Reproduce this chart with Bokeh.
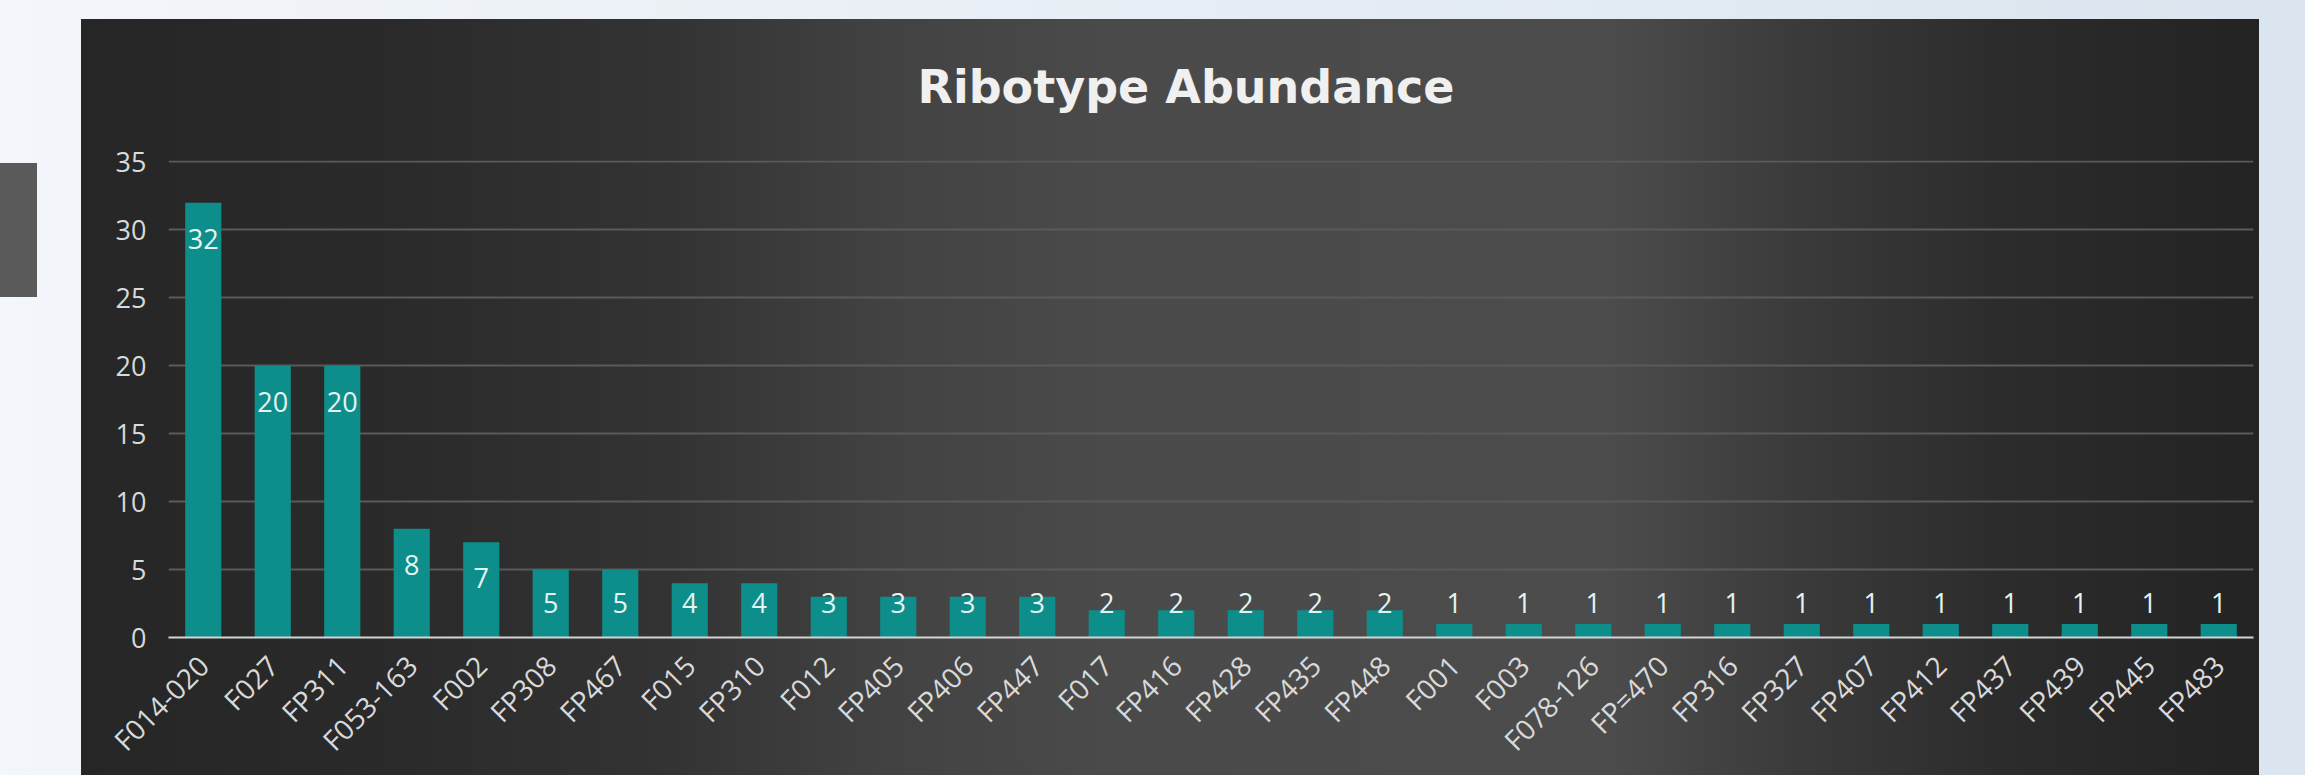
import math

from bokeh.plotting import figure
from bokeh.models import ColumnDataSource, Range1d, FixedTicker
from bokeh.core.properties import value
from bokeh.embed import file_html
from bokeh.resources import INLINE

# Ribotype counts, sorted by abundance
ribotypes = ["F014-020", "F027", "FP311", "F053-163", "F002", "FP308", "FP467",
             "F015", "FP310", "F012", "FP405", "FP406", "FP447", "F017", "FP416",
             "FP428", "FP435", "FP448", "F001", "F003", "F078-126", "FP=470",
             "FP316", "FP327", "FP407", "FP412", "FP437", "FP439", "FP445", "FP483"]
counts = [32, 20, 20, 8, 7, 5, 5, 4, 4, 3, 3, 3, 3, 2, 2, 2, 2, 2,
          1, 1, 1, 1, 1, 1, 1, 1, 1, 1, 1, 1]
y_ticks = [0, 5, 10, 15, 20, 25, 30, 35]
chart_title = "Ribotype Abundance"

# value labels sit just inside the top of each bar, never lower than a floor
label_y = [max(c - 2.65, 2.57) for c in counts]
source = ColumnDataSource(dict(
    name=ribotypes,
    count=counts,
    label=[str(c) for c in counts],
    label_y=label_y,
))

W, H = 2305, 775

p = figure(
    x_range=ribotypes,
    y_range=Range1d(0, 35.1),
    width=W, height=H,
    output_backend="svg",
    toolbar_location=None,
    min_border_left=168, min_border_right=52,
    min_border_top=160, min_border_bottom=138,
)

# page + dark panel backgrounds painted behind the transparent canvas
panel_gradient = ("linear-gradient(90deg, #262626 0%, #2a2a2a 14%, #333333 27%, "
                  "#424242 37%, #4a4a4a 47%, #4c4c4c 70%, #3a3a3a 79%, "
                  "#2c2c2c 88%, #232323 100%)")
p.styles = {
    "background": (
        "linear-gradient(#5a5a5a, #5a5a5a) 0px 163px / 37px 134px no-repeat, "
        f"{panel_gradient} 81px 19px / 2178px 756px no-repeat, "
        "linear-gradient(90deg, #f3f6fa, #dbe5ef)"
    )
}
p.background_fill_color = None
p.border_fill_color = None
p.outline_line_color = None

p.vbar(x="name", top="count", width=0.52, source=source,
       fill_color="#0e8e8a", line_color=None)

p.text(x="name", y="label_y", text="label", source=source,
       text_align="center", text_baseline="middle",
       text_font=value("Open Sans"), text_font_size="27px",
       text_color="#e4f4f2")

# title
p.title.text = chart_title
p.title.align = "left"
p.title.offset = 749
p.title.standoff = 93
p.title.text_font = "DejaVu Sans"
p.title.text_font_style = "bold"
p.title.text_font_size = "46px"
p.title.text_color = "#f0f0f0"

# grid
p.xgrid.grid_line_color = None
p.ygrid.grid_line_color = "#5a5a5a"
p.ygrid.grid_line_width = 2
p.ygrid.ticker = FixedTicker(ticks=y_ticks)

# y axis
p.yaxis.ticker = FixedTicker(ticks=y_ticks)
p.yaxis.axis_line_color = None
p.yaxis.major_tick_line_color = None
p.yaxis.minor_tick_line_color = None
p.yaxis.major_tick_out = 0
p.yaxis.major_label_standoff = 22
p.yaxis.major_label_text_font = "Open Sans"
p.yaxis.major_label_text_font_size = "27px"
p.yaxis.major_label_text_color = "#d9d9d9"

# x axis
p.xaxis.axis_line_color = "#d4d4d4"
p.xaxis.axis_line_width = 2
p.xaxis.major_tick_line_color = None
p.xaxis.minor_tick_line_color = None
p.xaxis.major_tick_out = 0
p.xaxis.major_tick_in = 0
p.xaxis.major_label_orientation = math.pi / 4
p.xaxis.major_label_standoff = 23
p.xaxis.major_label_text_baseline = "top"
p.xaxis.major_label_text_font = "Open Sans"
p.xaxis.major_label_text_font_size = "28px"
p.xaxis.major_label_text_color = "#d9d9d9"
p.x_range.range_padding = 0

open("out.html", "w").write(file_html(p, INLINE))
